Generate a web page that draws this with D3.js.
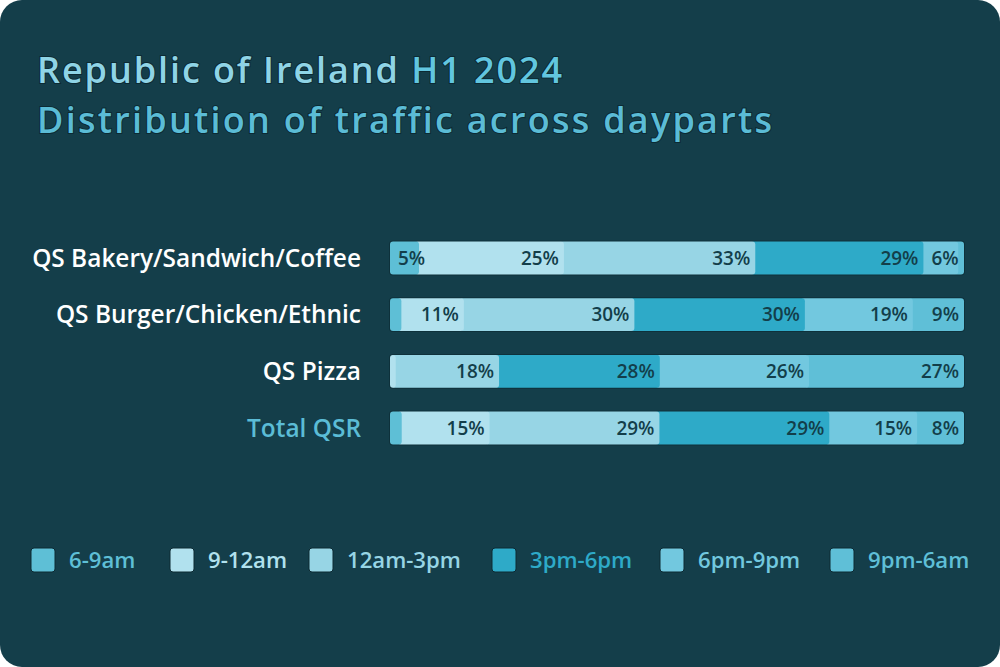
<!DOCTYPE html>
<html><head><meta charset="utf-8">
<script src="https://cdn.jsdelivr.net/npm/d3@7"></script>
<style>body{margin:0;background:#fff;} svg{display:block;}</style>
</head><body><svg id="c" width="1000" height="667"></svg>
<script>
const categories = ["QS Bakery/Sandwich/Coffee","QS Burger/Chicken/Ethnic","QS Pizza","Total QSR"];
const dayparts = ["6-9am","9-12am","12am-3pm","3pm-6pm","6pm-9pm","9pm-6am"];
const s6to9am   = [5, 2, 0, 2];
const s9to12am  = [25, 11, 1, 15];
const s12to3pm  = [33, 30, 18, 29];
const s3to6pm   = [29, 30, 28, 29];
const s6to9pm   = [6, 19, 26, 15];
const s9pmto6am = [1, 9, 27, 8];
const seriesValues = [s6to9am, s9to12am, s12to3pm, s3to6pm, s6to9pm, s9pmto6am];
const colors = ["#5ebfd6","#b1e1ee","#97d5e5","#2eaac8","#72c8df","#5fbfd7"];
const titleLine1 = ["Republic of Ireland ", "H1 2024"];
const titleLine2 = "Distribution of traffic across dayparts";

const rows = categories.map((c,i) => {
  const o = {category: c};
  dayparts.forEach((d,j) => o[d] = seriesValues[j][i]);
  return o;
});

const svg = d3.select("#c");
const W = 1000, H = 667;
svg.append("rect").attr("x",0).attr("y",0).attr("width",W).attr("height",H)
  .attr("rx",22).attr("fill","#143e4a");

const font = "'Open Sans', Lato, sans-serif";

// scale a text's font-size so its width matches target
function fit(sel, target) {
  const fs = +sel.attr("font-size");
  const w = sel.node().getComputedTextLength();
  const nfs = fs * target / w;
  sel.attr("font-size", nfs);
  return nfs;
}
// widen a text with letter-spacing so its width matches target
function spread(sel, target, n) {
  const w = sel.node().getComputedTextLength();
  sel.attr("letter-spacing", (target - w) / (n - 1));
}

// Title
const t1 = svg.append("text").attr("x",37).attr("y",83)
  .attr("font-family",font).attr("font-weight",600).attr("font-size",36)
  .attr("stroke","#0c2a33").attr("stroke-width",2).attr("paint-order","stroke");
t1.append("tspan").attr("fill","#8fd4e6").text(titleLine1[0]);
t1.append("tspan").attr("fill","#62c6df").text(titleLine1[1]);
spread(t1, 525, titleLine1.join("").length);
const t2 = svg.append("text").attr("x",37).attr("y",133)
  .attr("font-family",font).attr("font-weight",600).attr("font-size",36)
  .attr("stroke","#0c2a33").attr("stroke-width",2).attr("paint-order","stroke")
  .attr("fill","#5bbcd6").text(titleLine2);
spread(t2, 735, titleLine2.length);

const x = d3.scaleLinear().domain([0,1]).range([390,964]);
const y = d3.scaleBand().domain(categories).range([229.6,456.4]).paddingInner(0.42).paddingOuter(0.21);

const stack = d3.stack().keys(dayparts).offset(d3.stackOffsetExpand);
const stacked = stack(rows);

// bar outline/background
svg.append("g").selectAll("rect").data(categories).join("rect")
  .attr("x", x(0)-1).attr("y", d => y(d)-1)
  .attr("width", x(1)-x(0)+2).attr("height", y.bandwidth()+2)
  .attr("rx",4).attr("fill","#0e313b");

const g = svg.append("g");
// draw last layer first; each later segment tucks under the previous one
stacked.slice().reverse().forEach(layer => {
  const j = dayparts.indexOf(layer.key);
  const ext = d => d[0] > 0 ? 4 : 0;
  g.append("g").selectAll("rect").data(layer.filter(d => d[1]-d[0] > 0)).join("rect")
    .attr("x", d => x(d[0]) - ext(d))
    .attr("y", d => y(d.data.category))
    .attr("width", d => x(d[1]) - x(d[0]) + ext(d))
    .attr("height", y.bandwidth())
    .attr("rx",3)
    .attr("fill", colors[j]);
});

// labels
let labelSize = 18;
{
  const probe = svg.append("text").attr("font-family",font).attr("font-weight",600)
    .attr("font-size",18).text("25%");
  labelSize = fit(probe, 38);
  probe.remove();
}
stacked.forEach((layer, j) => {
  layer.forEach(d => {
    const v = d.data[layer.key];
    if (v < 5) return;
    const t = g.append("text")
      .attr("y", y(d.data.category) + y.bandwidth()/2)
      .attr("dy","0.36em")
      .attr("text-anchor","end")
      .attr("font-family",font).attr("font-weight",600).attr("font-size",labelSize)
      .attr("fill","#133e4a").text(v + "%");
    const w = t.node().getComputedTextLength();
    t.attr("x", Math.max(x(d[1]) - 5, x(d[0]) + w + 8));
  });
});

// category labels
let catSize = 20;
{
  const probe = svg.append("text").attr("font-family",font).attr("font-weight",600)
    .attr("font-size",20).text(categories[0]);
  catSize = fit(probe, 329);
  probe.remove();
}
svg.append("g").selectAll("text").data(categories).join("text")
  .attr("x",361).attr("y", d => y(d) + y.bandwidth()/2).attr("dy","0.36em")
  .attr("text-anchor","end")
  .attr("font-family",font).attr("font-weight",600).attr("font-size",catSize)
  .attr("fill", d => d === "Total QSR" ? "#5bbcd6" : "#ffffff")
  .text(d => d);

// legend
let legSize = 20;
{
  const probe = svg.append("text").attr("font-family",font).attr("font-weight",600)
    .attr("font-size",20).text(dayparts[2]);
  legSize = fit(probe, 114);
  probe.remove();
}
const legX = [31, 170, 309, 492, 660, 830];
const lg = svg.append("g").selectAll("g").data(dayparts).join("g")
  .attr("transform", (d,i) => `translate(${legX[i]},548)`);
lg.append("rect").attr("width",24).attr("height",24).attr("rx",3)
  .attr("fill",(d,i)=>colors[i]).attr("stroke","#0c2a33").attr("stroke-width",1);
lg.append("text").attr("x",38).attr("y",12).attr("dy","0.36em")
  .attr("font-family",font).attr("font-weight",600).attr("font-size",legSize)
  .attr("fill",(d,i)=>colors[i]).text(d=>d);
</script></body></html>
